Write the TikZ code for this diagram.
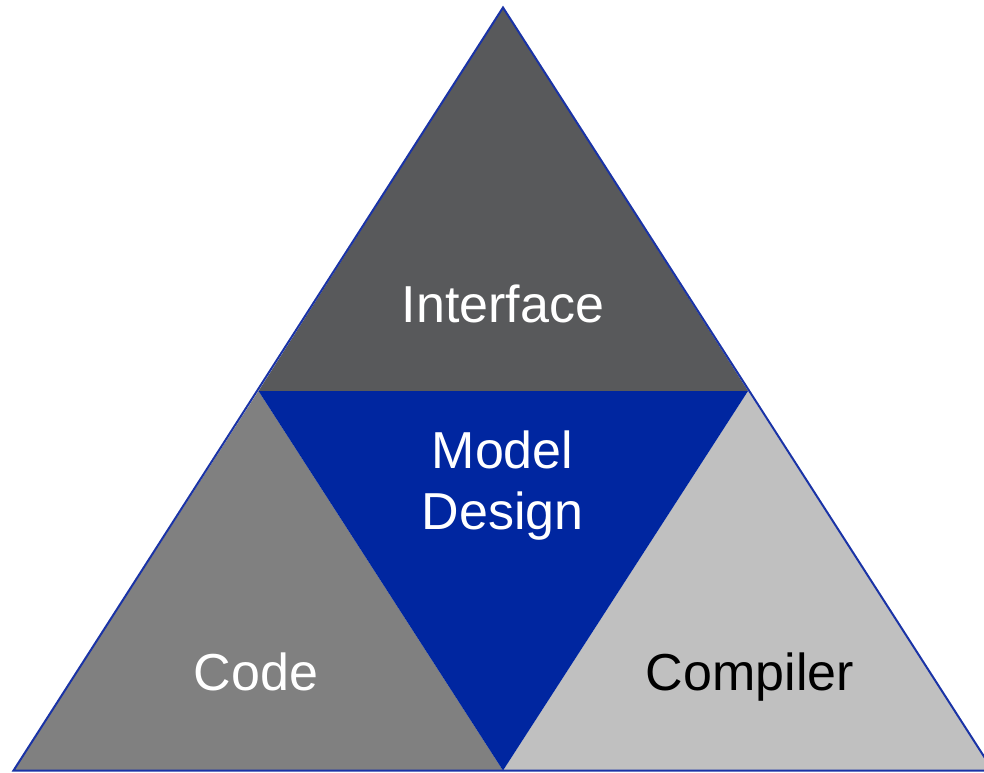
\documentclass[tikz,border=0pt]{standalone}
\usepackage{fontspec}
\setmainfont{Liberation Sans}
\definecolor{topgrey}{HTML}{58595B}
\definecolor{leftgrey}{HTML}{808080}
\definecolor{rightgrey}{HTML}{C0C0C0}
\definecolor{coreblue}{HTML}{0026A0}
\definecolor{rimblue}{HTML}{1A33A6}
\tikzset{
  part/.style={draw=none},
  label/.style={font=\fontsize{52}{62}\selectfont, inner sep=0pt, anchor=base},
}
\begin{document}
\begin{tikzpicture}[x=1pt,y=-1pt]
  \useasboundingbox (0,0) rectangle (984,772);
  % corner and edge midpoints of the big triangle
  \coordinate (apex) at (503,7.5);
  \coordinate (bl) at (13.5,770.5);
  \coordinate (br) at (993,770.5);
  \coordinate (ml) at (258.5,391);
  \coordinate (mr) at (748,391);
  \coordinate (bm) at (503,770.5);
  % four sub-triangles
  \fill[topgrey] (apex) -- (ml) -- (mr) -- cycle;
  \fill[leftgrey] (ml) -- (bl) -- (bm) -- cycle;
  \fill[rightgrey] (mr) -- (bm) -- (br) -- cycle;
  \fill[coreblue] (ml) -- (mr) -- (bm) -- cycle;
  % outer rim
  \begin{scope}
    \clip (0,0) rectangle (984,772);
    \draw[rimblue, line width=2pt, line join=miter] (apex) -- (bl) -- (br) -- cycle;
  \end{scope}
  % labels
  \node[label, text=white] (interface) at (503,322) {Interface};
  \node[label, text=white] (model) at (502.5,468) {Model};
  \node[label, text=white] (design) at (502.5,529) {Design};
  \node[label, text=white] (code) at (256,690) {Code};
  \node[label, text=black] (compiler) at (750,690) {Compiler};
\end{tikzpicture}
\end{document}
